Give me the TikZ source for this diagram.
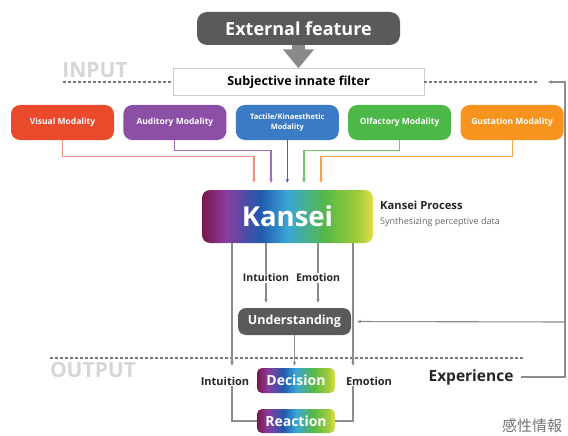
\documentclass[tikz,border=0pt]{standalone}
\usepackage{fontspec}
\setmainfont{Open Sans}
\newfontfamily\jpfont{Noto Sans CJK JP}
\usepackage{xcolor}
\usetikzlibrary{arrows.meta,positioning}

\definecolor{boxgray}{HTML}{5A5A5A}
\definecolor{arrowgray}{HTML}{8A8A8A}
\definecolor{linegray}{HTML}{8C8C8C}
\definecolor{dotgray}{HTML}{7A7A7A}
\definecolor{visred}{HTML}{EA4A2C}
\definecolor{audpur}{HTML}{8C4FA6}
\definecolor{tacblue}{HTML}{3B7BC6}
\definecolor{olfgreen}{HTML}{4DB848}
\definecolor{gusorange}{HTML}{F6941F}
\definecolor{visline}{HTML}{F3907A}
\definecolor{audline}{HTML}{A46BBE}
\definecolor{tacline}{HTML}{4460C0}
\definecolor{olfline}{HTML}{72C46E}
\definecolor{gusline}{HTML}{F6A24C}
% rainbow of the Kansei boxes
\definecolor{kmag}{HTML}{7A1748}
\definecolor{kpur}{HTML}{8A3C9E}
\definecolor{kblue}{HTML}{2159AE}
\definecolor{kcyan}{HTML}{3AA6D6}
\definecolor{kgreen}{HTML}{55B848}
\definecolor{klime}{HTML}{A5CD3A}
\definecolor{kyel}{HTML}{E6DF48}
\pgfdeclarehorizontalshading{kansei}{100bp}{color(0bp)=(kmag); color(25bp)=(kmag);
  color(32bp)=(kpur); color(42bp)=(kblue); color(50bp)=(kcyan); color(61bp)=(kgreen);
  color(71bp)=(klime); color(75bp)=(kyel); color(100bp)=(kyel)}

\begin{document}
\begin{tikzpicture}[x=1pt,y=-1pt,
    node distance=9pt,
    darkbox/.style={
      rectangle, rounded corners=10pt, fill=boxgray, text=white,
      font=\fontsize{18}{18}\selectfont\bfseries
    },
    modal/.style={
      rectangle, rounded corners=9pt, text=white, align=center,
      minimum width=103pt, minimum height=35pt, inner sep=1pt,
      font=\fontsize{8.5}{10}\selectfont\bfseries
    },
    rainbow/.style={
      rectangle, rounded corners=5pt, shading=kansei, text=white,
      font=\fontsize{14}{14}\selectfont\bfseries
    },
    lbl/.style={inner sep=1pt, font=\fontsize{10.5}{10.5}\selectfont\bfseries, text=black!85},
    conn/.style={draw=linegray, line width=1.1pt},
    tip/.style={-{Stealth[length=4pt,width=3.5pt]}},
    sepline/.style={draw=dotgray, line width=1.6pt, dash pattern=on 3pt off 2pt},
    iolabel/.style={inner sep=0pt, font=\fontsize{21}{21}\selectfont\bfseries, text=black!16}
  ]
  \useasboundingbox (0,0) rectangle (568,436);

  % input side
  \node[darkbox, minimum width=203pt, minimum height=33pt] (ext) at (298.5,28.5) {External feature};
  \node[rectangle, draw=black!20, fill=white, minimum width=251pt, minimum height=27pt,
    font=\fontsize{12.5}{12.5}\selectfont\bfseries] (filter) at (298.5,82) {Subjective innate filter};
  \draw[draw=arrowgray, line width=13pt, -{Triangle[width=30pt,length=19pt]}] (ext.south) -- (filter.north);

  \node[iolabel] (input) at (95,70) {INPUT};
  \coordinate (inL) at (63,82);
  \coordinate (inR) at (537,82);
  \draw[sepline] (inL) -- (filter.west);
  \draw[sepline] (filter.east) -- (inR);

  \node[modal, fill=visred] (vis) at (62.5,122.5) {Visual Modality};
  \node[modal, fill=audpur, right=of vis] (aud) {Auditory Modality};
  \node[modal, fill=tacblue, right=of aud, font=\fontsize{7.5}{10}\selectfont\bfseries] (tac) {Tactile/Kinaesthetic\\Modality};
  \node[modal, fill=olfgreen, right=of tac] (olf) {Olfactory Modality};
  \node[modal, fill=gusorange, right=of olf] (gus) {Gustation Modality};

  % kansei
  \node[rainbow, minimum width=171pt, minimum height=53pt, rounded corners=8pt,
    font=\fontsize{27.5}{27.5}\selectfont\bfseries] (kansei) at (287.5,216.5) {Kansei};
  \node[anchor=west, inner sep=0pt, font=\fontsize{11.2}{11.2}\selectfont\bfseries, text=black!85]
    (kproc) at (380,205) {Kansei Process};
  \node[anchor=west, inner sep=0pt, font=\fontsize{9}{9}\selectfont, text=black!60]
    (ksyn) at (380,222) {Synthesizing perceptive data};

  \draw[conn, draw=visline, tip, shorten >=7pt] (vis.south) -- ++(0,16) -| ([xshift=-33.5pt]kansei.north);
  \draw[conn, draw=audline, tip, shorten >=7pt] (aud.south) -- ++(0,10) -| ([xshift=-16.5pt]kansei.north);
  \draw[conn, draw=tacline, tip, shorten >=7pt] (tac.south) -- (tac.south |- kansei.north);
  \draw[conn, draw=olfline, tip, shorten >=7pt] (olf.south) -- ++(0,10) -| ([xshift=16.5pt]kansei.north);
  \draw[conn, draw=gusline, tip, shorten >=7pt] (gus.south) -- ++(0,16) -| ([xshift=33.5pt]kansei.north);

  \node[lbl] (intu1) at (266,278) {Intuition};
  \node[lbl] (emo1) at (318,278) {Emotion};
  \node[darkbox, minimum width=113pt, minimum height=27pt, rounded corners=8pt,
    font=\fontsize{12.5}{12.5}\selectfont\bfseries] (und) at (294.5,321.5) {Understanding};

  \draw[conn] (kansei.south -| intu1) -- (intu1.north);
  \draw[conn] (kansei.south -| emo1) -- (emo1.north);
  \draw[conn, tip, shorten >=5pt] (intu1.south) -- (intu1.south |- und.north);
  \draw[conn, tip, shorten >=5pt] (emo1.south) -- (emo1.south |- und.north);

  % output side
  \coordinate (outL) at (50,358);
  \coordinate (outR) at (523,358);
  \draw[sepline] (outL) -- (outR);
  \node[iolabel] (output) at (93,370) {OUTPUT};

  \node[rainbow, minimum width=78pt, minimum height=25pt] (dec) at (296,380.5) {Decision};
  \node[rainbow, minimum width=78pt, minimum height=24pt] (react) at (296,421) {Reaction};
  \node[lbl, font=\fontsize{11}{11}\selectfont\bfseries] (intu2) at (225,381) {Intuition};
  \node[lbl, font=\fontsize{11}{11}\selectfont\bfseries] (emo2) at (369,381) {Emotion};
  \node[inner xsep=7pt, font=\fontsize{15.5}{15.5}\selectfont\bfseries, text=black!85]
    (exp) at (471,377) {Experience};

  \draw[conn, tip, shorten >=2pt] ([xshift=-55.5pt]kansei.south) -- ([xshift=-55.5pt]kansei.south |- dec.north);
  \draw[conn, tip, shorten >=2pt] ([xshift=65.5pt]kansei.south) -- ([xshift=65.5pt]kansei.south |- dec.north);
  \draw[conn, tip, shorten >=2pt] (und.south) -- (und.south |- dec.north);
  \draw[conn] ([xshift=-55.5pt]kansei.south |- intu2.south) |- (react.west);
  \draw[conn] ([xshift=65.5pt]kansei.south |- emo2.south) |- (react.east);

  % feedback of experience
  \coordinate (fbtip) at (548,82);
  \coordinate (fbturn) at (565,322);
  \draw[conn, tip] (exp.east) -| (fbturn) |- (fbtip);
  \draw[conn, tip, shorten >=6pt] (fbturn) -- (und.east);

  \node[inner sep=0pt, font=\jpfont\fontsize{15}{15}\selectfont, text=black!55] (jp) at (532,426) {感性情報};
\end{tikzpicture}
\end{document}
